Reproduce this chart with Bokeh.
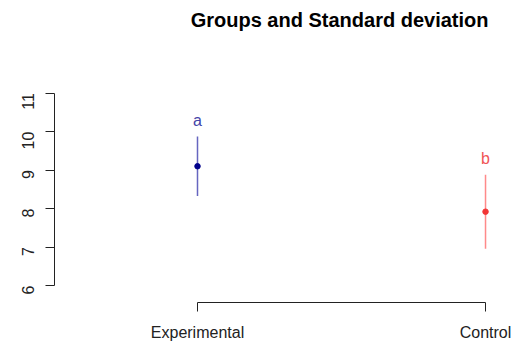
import math
from bokeh.plotting import figure
from bokeh.models import LinearAxis, FixedTicker, Range1d, Title, ColumnDataSource
from bokeh.core.properties import value
from bokeh.embed import file_html
from bokeh.resources import INLINE

# data
groups = ["Experimental", "Control"]
group_pos = [1, 2]
means = [9.1, 7.92]
sds = [0.77, 0.96]
letters = ["a", "b"]
letter_y = [10.28, 9.3]
point_colors = ["#00008B", "#F23535"]
line_colors = ["#6666C0", "#FF8A8A"]
text_colors = ["#4444A8", "#F05555"]
y_ticks = [6, 7, 8, 9, 10, 11]

FONT = "Liberation Sans"

p = figure(width=514, height=343, output_backend="svg", toolbar_location=None,
           x_range=Range1d(0.5035, 2.052), y_range=Range1d(5.562, 12.495),
           x_axis_type=None, y_axis_type=None,
           min_border_left=54, min_border_right=14, min_border_top=35, min_border_bottom=39)
p.outline_line_color = None
p.xgrid.visible = False
p.ygrid.visible = False
p.background_fill_color = "white"
p.border_fill_color = "white"

lo = [m - s for m, s in zip(means, sds)]
hi = [m + s for m, s in zip(means, sds)]
src = ColumnDataSource(dict(x=group_pos, m=means, lo=lo, hi=hi, lc=line_colors,
                            pc=point_colors, tc=text_colors, ly=letter_y, lab=letters))

p.segment(x0="x", y0="lo", x1="x", y1="hi", line_color="lc", line_width=1.5, source=src)
p.scatter(x="x", y="m", size=5.5, fill_color="pc", line_color="pc", source=src)
p.text(x="x", y="ly", text="lab", text_color="tc", text_font=value(FONT),
       text_font_size="16px", text_align="center", text_baseline="middle", source=src)

# y axis
ya = LinearAxis(ticker=FixedTicker(ticks=y_ticks), bounds=(6, 11))
ya.major_label_orientation = math.pi / 2
ya.major_tick_in = 0
ya.major_tick_out = 9
ya.minor_tick_in = 0
ya.minor_tick_out = 0
ya.major_label_standoff = 17
ya.major_label_text_font = FONT
ya.major_label_text_font_size = "16px"
ya.major_label_text_color = "#222222"
ya.axis_line_color = "#222222"
ya.major_tick_line_color = "#222222"
p.add_layout(ya, "left")

# x axis
xa = LinearAxis(ticker=FixedTicker(ticks=group_pos), bounds=(1, 2))
xa.major_label_overrides = {pos: name for pos, name in zip(group_pos, groups)}
xa.major_tick_in = 0
xa.major_tick_out = 9
xa.minor_tick_in = 0
xa.minor_tick_out = 0
xa.major_label_standoff = 12
xa.major_label_text_font = FONT
xa.major_label_text_font_size = "16px"
xa.major_label_text_color = "#222222"
xa.axis_line_color = "#222222"
xa.major_tick_line_color = "#222222"
p.add_layout(xa, "below")

t = Title(text="Groups and Standard deviation", align="right", offset=12,
          text_font=FONT, text_font_size="20px", text_font_style="bold",
          text_color="#000000")
p.add_layout(t, "above")

open("out.html", "w").write(file_html(p, INLINE))
